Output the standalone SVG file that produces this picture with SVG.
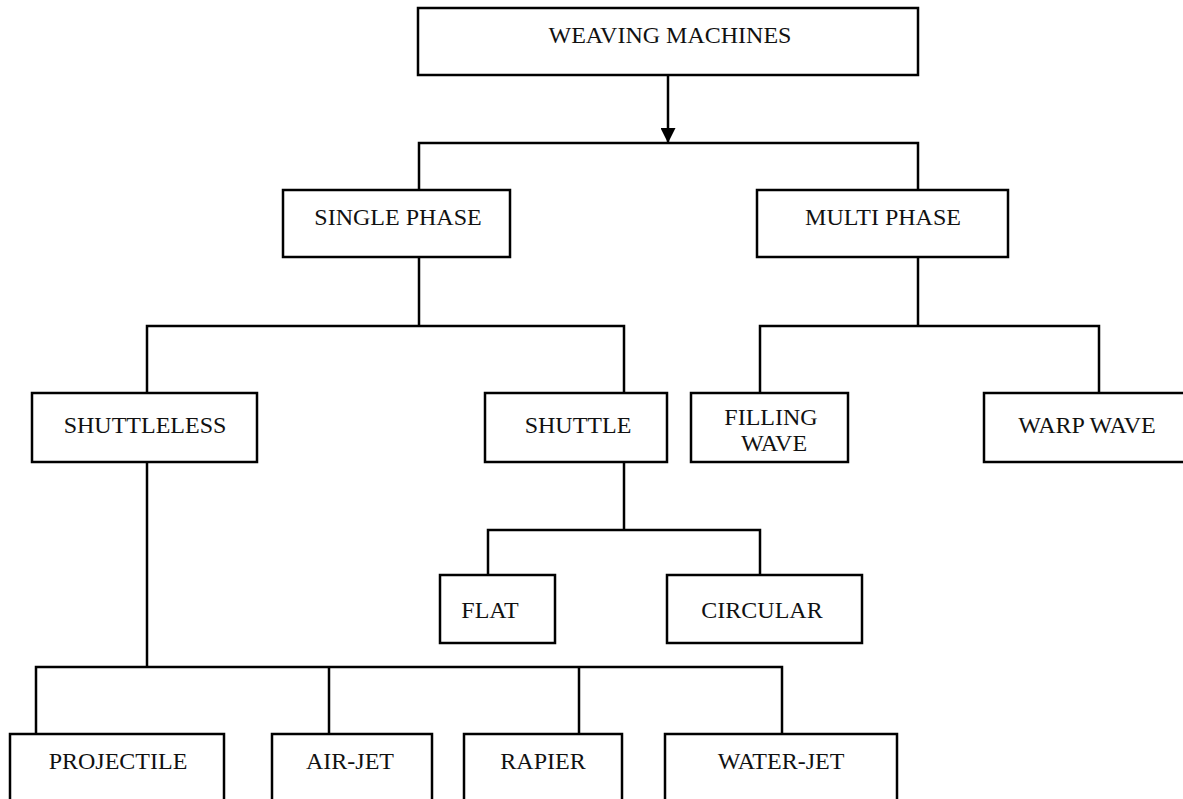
<svg xmlns="http://www.w3.org/2000/svg" width="1183" height="799" viewBox="0 0 1183 799">
<style>
.box{fill:#fff;stroke:#000;stroke-width:2.5}
.lbl{font-family:"Liberation Serif","Times New Roman",serif;font-size:24px;fill:#111;text-anchor:middle}
.con{fill:none;stroke:#000;stroke-width:2.5}
</style>
<defs>
<marker id="arr" viewBox="0 0 10 10" refX="10" refY="5" markerWidth="15" markerHeight="15" markerUnits="userSpaceOnUse" orient="auto">
<path d="M0,0 L10,5 L0,10 Z" fill="#000"/>
</marker>
</defs>
<rect width="1183" height="799" fill="#fff"/>
<g id="connectors">
<line class="con" x1="668" y1="75" x2="668" y2="143" marker-end="url(#arr)"/>
<path class="con" d="M419,190 V143 H918 V190"/>
<path class="con" d="M419,257 V326"/>
<path class="con" d="M147,393 V326 H624 V393"/>
<path class="con" d="M918,257 V326"/>
<path class="con" d="M760,393 V326 H1099 V393"/>
<path class="con" d="M624,461 V530"/>
<path class="con" d="M488,575 V530 H760 V575"/>
<path class="con" d="M147,462 V667"/>
<path class="con" d="M36,734 V667 H782 V734"/>
<path class="con" d="M329,667 V734"/>
<path class="con" d="M579,667 V734"/>
</g>
<g id="weaving-machines"><rect class="box" x="418" y="8" width="500" height="67"/><text class="lbl" x="670" y="43">WEAVING MACHINES</text></g>
<g id="single-phase"><rect class="box" x="283" y="190" width="227" height="67"/><text class="lbl" x="398" y="225">SINGLE PHASE</text></g>
<g id="multi-phase"><rect class="box" x="757" y="190" width="251" height="67"/><text class="lbl" x="883" y="225">MULTI PHASE</text></g>
<g id="shuttleless"><rect class="box" x="32" y="393" width="225" height="69"/><text class="lbl" x="145" y="433">SHUTTLELESS</text></g>
<g id="shuttle"><rect class="box" x="485" y="393" width="182" height="69"/><text class="lbl" x="578" y="433">SHUTTLE</text></g>
<g id="filling-wave"><rect class="box" x="691" y="393" width="157" height="69"/><text class="lbl" x="771" y="425">FILLING</text><text class="lbl" x="774" y="451">WAVE</text></g>
<g id="warp-wave"><rect class="box" x="984" y="393" width="206" height="69"/><text class="lbl" x="1087" y="433">WARP WAVE</text></g>
<g id="flat"><rect class="box" x="440" y="575" width="115" height="68"/><text class="lbl" x="490" y="618">FLAT</text></g>
<g id="circular"><rect class="box" x="667" y="575" width="195" height="68"/><text class="lbl" x="762" y="618">CIRCULAR</text></g>
<g id="projectile"><rect class="box" x="10" y="734" width="214" height="80"/><text class="lbl" x="118" y="769">PROJECTILE</text></g>
<g id="air-jet"><rect class="box" x="272" y="734" width="160" height="80"/><text class="lbl" x="350" y="769">AIR-JET</text></g>
<g id="rapier"><rect class="box" x="464" y="734" width="158" height="80"/><text class="lbl" x="543" y="769">RAPIER</text></g>
<g id="water-jet"><rect class="box" x="665" y="734" width="232" height="80"/><text class="lbl" x="781" y="769">WATER-JET</text></g>
</svg>
